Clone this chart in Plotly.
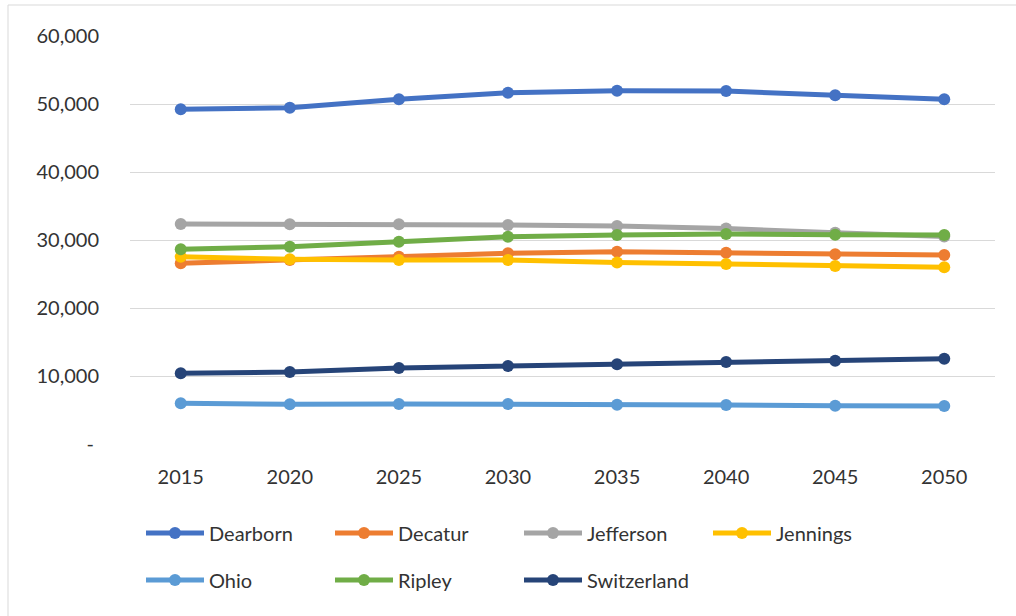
import plotly.graph_objects as go

# Projected population by county, 2015-2050
years = ["2015", "2020", "2025", "2030", "2035", "2040", "2045", "2050"]

dearborn = [49220, 49460, 50690, 51660, 51960, 51910, 51280, 50690]
decatur = [26570, 27060, 27550, 28040, 28280, 28140, 27890, 27790]
jefferson = [32350, 32330, 32330, 32200, 32050, 31700, 31050, 30500]
jennings = [27550, 27160, 27060, 27060, 26700, 26470, 26180, 25990]
ohio = [5980, 5830, 5880, 5880, 5780, 5740, 5640, 5590]
ripley = [28630, 29020, 29750, 30490, 30740, 30880, 30780, 30740]
switzerland = [10390, 10590, 11180, 11470, 11720, 12060, 12250, 12550]

county_names = ["Dearborn", "Decatur", "Jefferson", "Jennings",
                "Ohio", "Ripley", "Switzerland"]
county_values = [dearborn, decatur, jefferson, jennings,
                 ohio, ripley, switzerland]
county_colors = ["#4472C4", "#ED7D31", "#A5A5A5", "#FFC000",
                 "#5B9BD5", "#70AD47", "#264478"]

y_tick_vals = [0, 10000, 20000, 30000, 40000, 50000, 60000]
y_tick_text = ["-\u00a0", "10,000", "20,000", "30,000",
               "40,000", "50,000", "60,000"]

FONT = "Lato, 'Open Sans', sans-serif"
TEXT_COLOR = "#333333"

W, H = 1016, 616
ML, MR, MT, MB = 130, 21, 36, 172
PW, PH = W - ML - MR, H - MT - MB

fig = go.Figure()
for i, (name, vals, col) in enumerate(zip(county_names, county_values, county_colors)):
    fig.add_trace(go.Scatter(
        x=years, y=vals, name=name, mode="lines+markers",
        line=dict(color=col, width=5),
        marker=dict(color=col, size=12, symbol="circle"),
        legend="legend" if i < 4 else "legend2",
    ))


def px_x(p):
    return (p - ML) / PW


def px_y(p):
    return (H - MB - p) / PH


legend_common = dict(
    orientation="h", xanchor="left", yanchor="middle",
    font=dict(family=FONT, size=20, color=TEXT_COLOR),
    entrywidth=116, entrywidthmode="pixels", itemwidth=58,
    bgcolor="rgba(0,0,0,0)", traceorder="normal",
)

fig.update_layout(
    width=W, height=H,
    margin=dict(l=ML, r=MR, t=MT, b=MB, pad=0),
    paper_bgcolor="white", plot_bgcolor="white",
    showlegend=True,
    font=dict(family=FONT, size=20, color=TEXT_COLOR),
    xaxis=dict(
        type="category", showgrid=False, zeroline=False, showline=False,
        ticks="", ticklabelstandoff=19,
        tickfont=dict(family=FONT, size=20, color=TEXT_COLOR),
    ),
    yaxis=dict(
        range=[0, 60000], tickvals=y_tick_vals, ticktext=y_tick_text,
        showgrid=True, gridcolor="#D9D9D9", gridwidth=1,
        zeroline=False, showline=False, ticks="", ticklabelstandoff=30,
        tickfont=dict(family=FONT, size=20, color=TEXT_COLOR),
    ),
    legend=dict(x=px_x(141), y=px_y(533), **legend_common),
    legend2=dict(x=px_x(141), y=px_y(580), **legend_common),
    shapes=[
        dict(type="rect", xref="paper", yref="paper",
             x0=px_x(8), x1=px_x(1100), y0=px_y(700), y1=px_y(5),
             line=dict(color="#D9D9D9", width=1), fillcolor="rgba(0,0,0,0)",
             layer="below"),
    ],
)

fig.write_html("out.html")
